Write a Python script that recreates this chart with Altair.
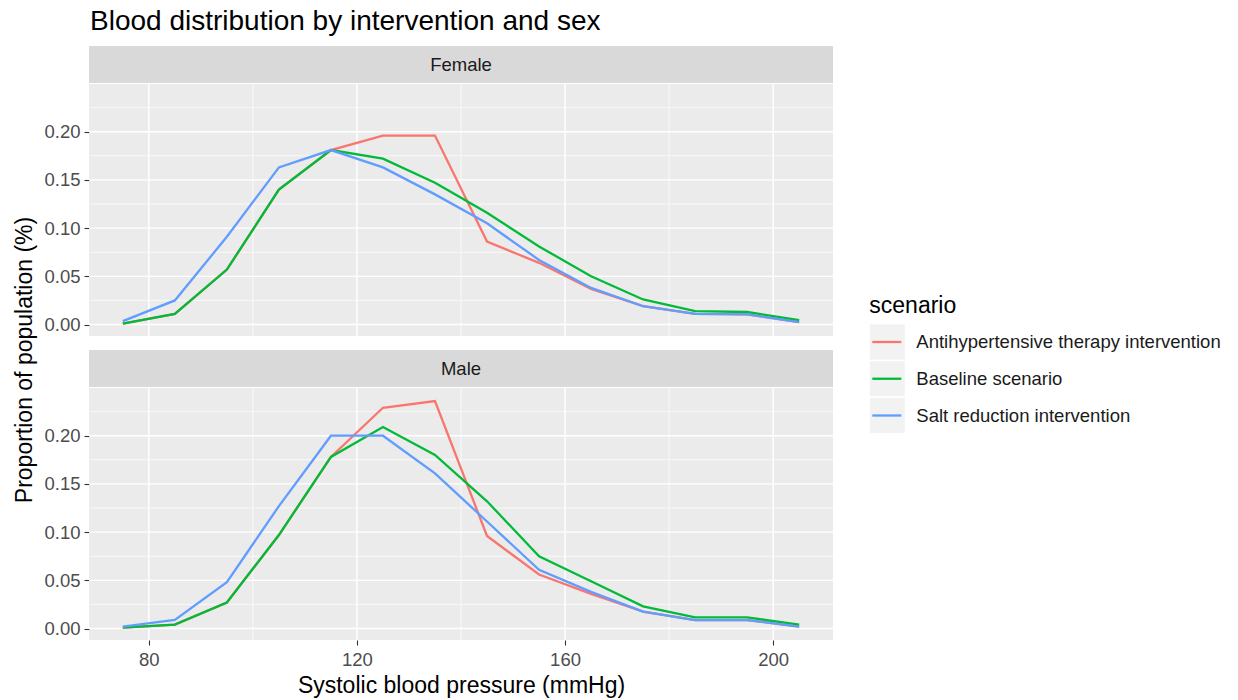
import altair as alt
import pandas as pd

# ---------------- data ----------------
sbp = [75, 85, 95, 105, 115, 125, 135, 145, 155, 165, 175, 185, 195, 205]
scenarios = ["Antihypertensive therapy intervention", "Baseline scenario", "Salt reduction intervention"]
colors = ["#F8766D", "#00BA38", "#619CFF"]
sexes = ["Female", "Male"]

female_antihyp = [0.001, 0.011, 0.057, 0.140, 0.181, 0.196, 0.196, 0.086, 0.064, 0.037, 0.019, 0.011, 0.0105, 0.0025]
female_baseline = [0.001, 0.011, 0.057, 0.140, 0.181, 0.172, 0.147, 0.116, 0.081, 0.050, 0.026, 0.014, 0.013, 0.0045]
female_salt = [0.0035, 0.025, 0.091, 0.163, 0.181, 0.163, 0.135, 0.105, 0.067, 0.038, 0.019, 0.011, 0.0105, 0.0025]

male_antihyp = [0.001, 0.004, 0.027, 0.097, 0.178, 0.229, 0.236, 0.096, 0.056, 0.036, 0.0175, 0.0088, 0.0088, 0.002]
male_baseline = [0.001, 0.004, 0.027, 0.097, 0.178, 0.209, 0.180, 0.132, 0.075, 0.049, 0.023, 0.0115, 0.0115, 0.004]
male_salt = [0.002, 0.009, 0.048, 0.127, 0.200, 0.200, 0.161, 0.111, 0.061, 0.038, 0.0175, 0.0088, 0.0088, 0.002]

x_major = [80, 120, 160, 200]
x_minor = [100, 140, 180]
y_major = [0.0, 0.05, 0.10, 0.15, 0.20]
y_minor = [0.025, 0.075, 0.125, 0.175, 0.225]

title_text = "Blood distribution by intervention and sex"
x_title = "Systolic blood pressure (mmHg)"
y_title = "Proportion of population (%)"
legend_title = "scenario"

series = {
    ("Female", scenarios[0]): female_antihyp,
    ("Female", scenarios[1]): female_baseline,
    ("Female", scenarios[2]): female_salt,
    ("Male", scenarios[0]): male_antihyp,
    ("Male", scenarios[1]): male_baseline,
    ("Male", scenarios[2]): male_salt,
}
rows = []
for (sex, sc), vals in series.items():
    for xv, v in zip(sbp, vals):
        rows.append({"sex": sex, "scenario": sc, "sbp": xv, "prop": v})
df = pd.DataFrame(rows)

# ---------------- styling ----------------
FONT = "Liberation Sans"
W = 744
H = 252
STRIP = 37
SP = 6  # hconcat spacing

xscale = alt.Scale(domain=[68.5, 211.5], nice=False, zero=False)
yscale = alt.Scale(domain=[-0.0119, 0.2495], nice=False, zero=False)
colscale = alt.Scale(domain=scenarios, range=colors)


def make_axes(show_x):
    if show_x:
        xaxis = alt.Axis(values=x_major, grid=False, domain=False, tickSize=5, tickWidth=1.1,
                         tickColor="#333333", labelFontSize=18.5, labelFont=FONT, labelColor="#4D4D4D",
                         labelPadding=5, title=x_title, titleFont=FONT, titleFontSize=23,
                         titleFontWeight="normal", titleColor="black", titlePadding=6)
    else:
        xaxis = None
    yaxis = alt.Axis(values=y_major, format=".2f", grid=False, domain=False, tickSize=5, tickWidth=1.1,
                     tickColor="#333333", labelFontSize=18.5, labelFont=FONT, labelColor="#4D4D4D",
                     labelPadding=4, title=None)
    return xaxis, yaxis


def grid(values, channel, width, xaxis, yaxis):
    d = pd.DataFrame({"v": values})
    if channel == "x":
        enc = dict(x=alt.X("v:Q", scale=xscale, axis=xaxis))
    else:
        enc = dict(y=alt.Y("v:Q", scale=yscale, axis=yaxis))
    return alt.Chart(d).mark_rule(color="white", strokeWidth=width).encode(**enc)


def panel(sex, show_x):
    xaxis, yaxis = make_axes(show_x)
    lines = alt.Chart(df[df["sex"] == sex]).mark_line(strokeWidth=2.3).encode(
        x=alt.X("sbp:Q", scale=xscale, axis=xaxis),
        y=alt.Y("prop:Q", scale=yscale, axis=yaxis),
        color=alt.Color("scenario:N", scale=colscale, legend=None),
    )
    return alt.layer(
        grid(x_minor, "x", 0.7, xaxis, yaxis), grid(y_minor, "y", 0.7, xaxis, yaxis),
        grid(x_major, "x", 1.4, xaxis, yaxis), grid(y_major, "y", 1.4, xaxis, yaxis),
        lines,
    ).properties(width=W, height=H, view=alt.ViewBackground(fill="#EBEBEB", strokeWidth=0))


def strip(sex):
    return alt.Chart(pd.DataFrame({"label": [sex]})).mark_text(
        font=FONT, fontSize=18.5, color="#1A1A1A", baseline="middle", align="center"
    ).encode(
        x=alt.value(W / 2), y=alt.value(STRIP / 2), text="label:N"
    ).properties(width=W, height=STRIP, view=alt.ViewBackground(fill="#D9D9D9", strokeWidth=0))


female = alt.vconcat(strip("Female"), panel("Female", False), spacing=0)
male = alt.vconcat(strip("Male"), panel("Male", True), spacing=0)
center = alt.vconcat(female, male, spacing=13)

TOTAL_H = STRIP * 2 + H * 2 + 13

ytitle = alt.Chart(pd.DataFrame({"t": [y_title]})).mark_text(
    angle=270, font=FONT, fontSize=23, color="black", baseline="middle", align="center"
).encode(x=alt.value(25), y=alt.value(314), text="t:N").properties(width=36, height=TOTAL_H)

# legend chart
LEG_LEFT = 88.7 + W + SP
legscale = alt.Scale(type="point", domain=scenarios, range=[296, 369.5], padding=0)
leg_df = pd.DataFrame({"scenario": scenarios})
leg_keys = alt.Chart(leg_df).mark_square(size=35 * 35, color="#F2F2F2", opacity=1).encode(
    x=alt.value(886 - LEG_LEFT), y=alt.Y("scenario:N", scale=legscale, axis=None)
)
leg_lines = alt.Chart(leg_df).mark_rule(strokeWidth=2.3).encode(
    x=alt.value(871 - LEG_LEFT), x2=alt.value(900 - LEG_LEFT),
    y=alt.Y("scenario:N", scale=legscale, axis=None),
    color=alt.Color("scenario:N", scale=colscale, legend=None),
)
leg_text = alt.Chart(leg_df).mark_text(
    align="left", baseline="middle", font=FONT, fontSize=18.5, color="#1A1A1A"
).encode(x=alt.value(915 - LEG_LEFT), y=alt.Y("scenario:N", scale=legscale, axis=None), text="scenario:N")
leg_title = alt.Chart(pd.DataFrame({"t": [legend_title]})).mark_text(
    align="left", baseline="alphabetic", font=FONT, fontSize=23, color="black"
).encode(x=alt.value(868 - LEG_LEFT), y=alt.value(267), text="t:N")
legend = alt.layer(leg_keys, leg_lines, leg_text, leg_title).properties(width=370, height=TOTAL_H)

chart = alt.hconcat(ytitle, center, legend, spacing=SP).properties(
    title=alt.Title(title_text, anchor="start", dx=90, fontSize=28, font=FONT, fontWeight="normal",
                    color="black", offset=10, frame="bounds"),
    padding={"left": 0, "top": 8, "right": 0, "bottom": 0},
).configure(font=FONT).configure_view(strokeWidth=0)

chart.save("out.html", embed_options={"renderer": "svg", "actions": False})
